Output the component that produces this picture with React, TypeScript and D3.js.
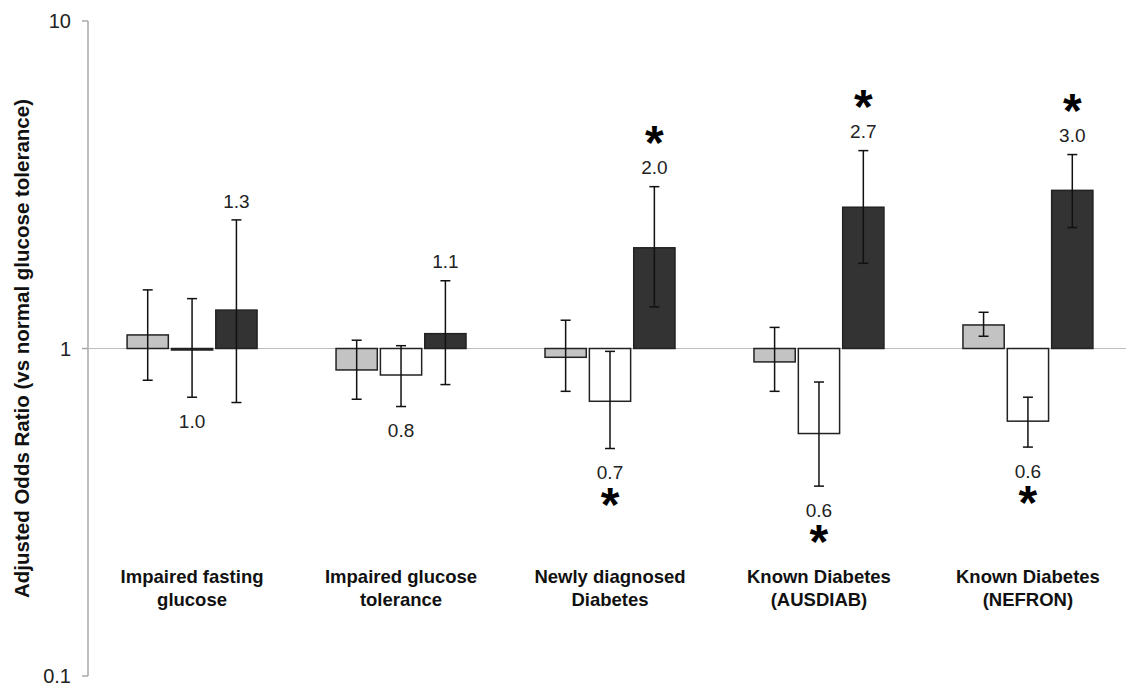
import React from 'react';
import * as d3 from 'd3';

// groups along the x axis, each label split over two lines
const groups = ['IFG', 'IGT', 'NDD', 'KD-AUSDIAB', 'KD-NEFRON'];
const groupLines = [
  ['Impaired fasting', 'glucose'],
  ['Impaired glucose', 'tolerance'],
  ['Newly diagnosed', 'Diabetes'],
  ['Known Diabetes', '(AUSDIAB)'],
  ['Known Diabetes', '(NEFRON)'],
];

const series = ['light', 'white', 'dark'];

// odds ratios with 95% CI
const lightVals = [1.1, 0.86, 0.94, 0.91, 1.18];
const lightLo = [0.8, 0.7, 0.74, 0.74, 1.09];
const lightHi = [1.51, 1.06, 1.22, 1.16, 1.29];

const whiteVals = [1.0, 0.83, 0.69, 0.55, 0.6];
const whiteLo = [0.71, 0.665, 0.495, 0.38, 0.5];
const whiteHi = [1.42, 1.02, 0.98, 0.79, 0.71];

const darkVals = [1.31, 1.11, 2.03, 2.7, 3.04];
const darkLo = [0.684, 0.776, 1.34, 1.82, 2.34];
const darkHi = [2.47, 1.61, 3.12, 4.02, 3.91];

const whiteLabels = ['1.0', '0.8', '0.7', '0.6', '0.6'];
const darkLabels = ['1.3', '1.1', '2.0', '2.7', '3.0'];
const whiteSig = [false, false, true, true, true];
const darkSig = [false, false, true, true, true];

const yTicks = [0.1, 1, 10];

const W = 1126;
const H = 686;
const font = '"Liberation Sans", Arial, sans-serif';

const App = () => {
  const axisX = 88;
  const y = d3.scaleLog().domain([0.1, 10]).range([676, 21]);
  const x0 = d3
    .scaleBand()
    .domain(groups)
    .range([axisX, 1132])
    .paddingInner(0.378)
    .paddingOuter(0.187);
  const x1 = d3.scaleBand().domain(series).range([0, x0.bandwidth()]).paddingInner(0.07);

  const table = {
    light: { vals: lightVals, lo: lightLo, hi: lightHi, fill: '#c3c3c3' },
    white: { vals: whiteVals, lo: whiteLo, hi: whiteHi, fill: '#ffffff' },
    dark: { vals: darkVals, lo: darkLo, hi: darkHi, fill: '#333333' },
  };

  const y1 = y(1);

  return (
    <svg width={W} height={H} style={{ position: 'absolute', left: 0, top: 0, background: '#fff' }}>
      {/* y axis */}
      <line x1={axisX} x2={axisX} y1={y(10)} y2={y(0.1)} stroke="#a8a8a8" strokeWidth={1.5} />
      {yTicks.map((t) => (
        <g key={t}>
          <line x1={axisX - 6} x2={axisX} y1={y(t)} y2={y(t)} stroke="#a8a8a8" strokeWidth={1.5} />
          <text
            x={71}
            y={y(t)}
            dy="0.35em"
            textAnchor="end"
            fontFamily={font}
            fontSize={20}
            fill="#222"
          >
            {t === 0.1 ? '0.1' : String(t)}
          </text>
        </g>
      ))}
      <text
        transform={`translate(29, ${y1}) rotate(-90)`}
        textAnchor="middle"
        fontFamily={font}
        fontSize={20.5}
        fontWeight="bold"
        fill="#111"
      >
        Adjusted Odds Ratio (vs normal glucose tolerance)
      </text>

      {/* reference line at OR = 1 */}
      <line x1={axisX} x2={W} y1={y1} y2={y1} stroke="#bdbdbd" strokeWidth={1} />

      {groups.map((g, i) => {
        const gx = x0(g) ?? 0;
        const cx = gx + x0.bandwidth() / 2;
        return (
          <g key={g}>
            {series.map((s) => {
              const d = table[s];
              const bx = gx + (x1(s) ?? 0);
              const bw = x1.bandwidth();
              const yv = y(d.vals[i]);
              const top = Math.min(yv, y1);
              const h = Math.max(Math.abs(yv - y1), 1.5);
              const ex = bx + bw / 2;
              return (
                <g key={s}>
                  <rect
                    x={bx}
                    y={top}
                    width={bw}
                    height={h}
                    fill={d.fill}
                    stroke="#222"
                    strokeWidth={1.5}
                  />
                  <line x1={ex} x2={ex} y1={y(d.hi[i])} y2={y(d.lo[i])} stroke="#111" strokeWidth={1.5} />
                  <line x1={ex - 5} x2={ex + 5} y1={y(d.hi[i])} y2={y(d.hi[i])} stroke="#111" strokeWidth={1.5} />
                  <line x1={ex - 5} x2={ex + 5} y1={y(d.lo[i])} y2={y(d.lo[i])} stroke="#111" strokeWidth={1.5} />
                </g>
              );
            })}

            {/* value labels and significance markers */}
            {(() => {
              const dx = gx + (x1('dark') ?? 0) + x1.bandwidth() / 2;
              const ly = y(darkHi[i]) - 19;
              return (
                <g>
                  <text x={dx} y={ly} dy="0.35em" textAnchor="middle" fontFamily={font} fontSize={19} fill="#222">
                    {darkLabels[i]}
                  </text>
                  {darkSig[i] && (
                    <text x={dx} y={ly - 9} textAnchor="middle" fontFamily={font} fontSize={48} fontWeight="bold" fill="#000">
                      *
                    </text>
                  )}
                </g>
              );
            })()}
            {(() => {
              const wx = gx + (x1('white') ?? 0) + x1.bandwidth() / 2;
              const ly = y(whiteLo[i]) + 24;
              return (
                <g>
                  <text x={wx} y={ly} dy="0.35em" textAnchor="middle" fontFamily={font} fontSize={19} fill="#222">
                    {whiteLabels[i]}
                  </text>
                  {whiteSig[i] && (
                    <text x={wx} y={ly + 48} textAnchor="middle" fontFamily={font} fontSize={48} fontWeight="bold" fill="#000">
                      *
                    </text>
                  )}
                </g>
              );
            })()}

            {/* category label */}
            {groupLines[i].map((line, k) => (
              <text
                key={k}
                x={cx}
                y={577 + k * 23}
                dy="0.35em"
                textAnchor="middle"
                fontFamily={font}
                fontSize={18.5}
                fontWeight="bold"
                fill="#111"
              >
                {line}
              </text>
            ))}
          </g>
        );
      })}
    </svg>
  );
};

export default App;
